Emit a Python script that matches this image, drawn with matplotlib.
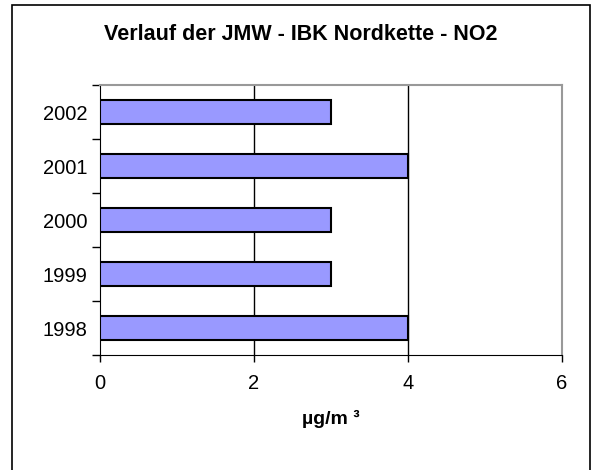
import matplotlib.pyplot as plt
import numpy as np
from matplotlib.patches import Rectangle

plt.rcParams['font.family'] = ['Liberation Sans', 'DejaVu Sans']

# dane
jahre = ['1998', '1999', '2000', '2001', '2002']
werte = [4, 3, 3, 4, 3]
x_ticks = [0, 2, 4, 6]

fig = plt.figure(figsize=(5.93, 4.70), dpi=100)
ax = fig.add_axes([100 / 593, 1 - 355 / 470, 462 / 593, 270 / 470])

pos = np.arange(len(jahre))
ax.barh(pos, werte, height=0.44, color='#9999FF', edgecolor='black', linewidth=1.5, zorder=3)

ax.set_xlim(0, 6)
ax.set_ylim(-0.5, len(jahre) - 0.5)
ax.set_xticks(x_ticks)
ax.set_xticklabels([str(t) for t in x_ticks], fontsize=14.5)
ax.set_yticks(pos)
ax.set_yticklabels(jahre, fontsize=14.5)
ax.tick_params(axis='y', length=0, pad=9)
ax.set_yticks(np.arange(-0.5, len(jahre), 1), minor=True)
ax.tick_params(axis='y', which='minor', length=6, width=1, direction='out')
ax.tick_params(axis='x', length=5, width=1, direction='out', pad=9)

# linie siatki
for t in x_ticks[1:-1]:
    ax.axvline(t, color='black', linewidth=1, zorder=1)

ax.spines['left'].set_color('black')
ax.spines['bottom'].set_color('black')
ax.spines['top'].set_color('#999999')
ax.spines['right'].set_color('#999999')
ax.spines['top'].set_linewidth(1.5)
ax.spines['right'].set_linewidth(1.5)

ax.set_xlabel('µg/m ³', fontsize=14, fontweight='bold', labelpad=12)
fig.text(0.5 * (12 + 590) / 593, 1 - 35 / 470, 'Verlauf der JMW - IBK Nordkette - NO2',
         ha='center', va='center', fontsize=15.5, fontweight='bold')

# ramka wykresu
fig.patches.append(Rectangle((12 / 593, -0.05), 578 / 593, 1.05 - 5 / 470,
                             transform=fig.transFigure, fill=False,
                             edgecolor='black', linewidth=1.2))

fig.savefig('out.png', dpi=100)
